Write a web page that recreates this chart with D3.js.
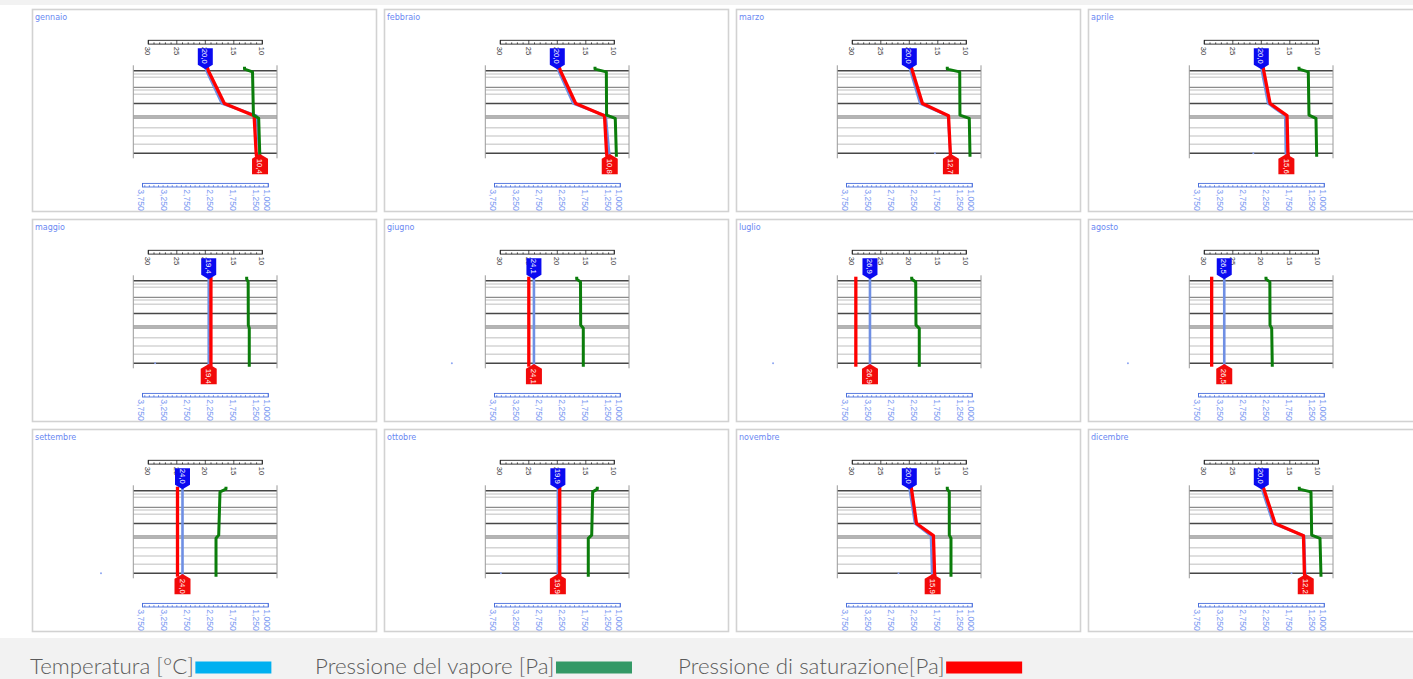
<!DOCTYPE html>
<html>
<head>
<meta charset="utf-8">
<script src="https://cdn.jsdelivr.net/npm/d3@7/dist/d3.min.js"></script>
<style>
  html, body { margin: 0; padding: 0; background: #f2f2f2; }
  svg { display: block; }
</style>
</head>
<body>
<svg id="chart" width="1413" height="679"></svg>
<script>
// Monthly Glaser diagrams of a wall: temperature, vapour pressure and saturation pressure
const months = ["gennaio", "febbraio", "marzo", "aprile", "maggio", "giugno",
                "luglio", "agosto", "settembre", "ottobre", "novembre", "dicembre"];

const tempTicks = [30, 25, 20, 15, 10];
const pressTicks = [3750, 3250, 2750, 2250, 1750, 1250, 1000];

// wall section: interfaces (cm from the inner surface) and how each line is drawn
const layerDepths = [0, 1.65, 3.3, 8.3, 9.65, 11.8, 16.4, 22.6, 23.7, 28.5, 32.65, 36.8, 41.3];
const layerKinds  = ["major", "light", "light", "medium", "light", "light", "major",
                     "band", "band", "light", "light", "light", "major"];

// depths of the profile points: inner air, inner surface, interfaces, outer surface, outer air
const profileDepths = [-2, 0, 16.4, 22.5, 41.3, 43];
const vapourDepths  = [-2, -0.8, 0.6, 22.2, 23.8, 43];

const tempInside  = [20.0, 20.0, 20.0, 20.0, 19.4, 24.1, 26.9, 26.5, 24.0, 19.9, 20.0, 20.0];
const tempOutside = [10.4, 10.8, 12.7, 15.6, 19.4, 24.1, 26.9, 26.5, 24.0, 19.9, 15.9, 12.2];

// temperature [°C] at the profile depths
const tempProfiles = [
  [20.0, 19.8, 17.1, 11.0, 10.5, 10.4],
  [20.0, 19.8, 17.2, 11.5, 10.9, 10.8],
  [20.0, 19.8, 18.1, 13.2, 12.8, 12.7],
  [20.0, 19.9, 18.8, 15.8, 15.7, 15.6],
  [19.4, 19.4, 19.4, 19.4, 19.4, 19.4],
  [24.1, 24.1, 24.1, 24.1, 24.1, 24.1],
  [26.9, 26.9, 26.9, 26.9, 26.9, 26.9],
  [26.5, 26.5, 26.5, 26.5, 26.5, 26.5],
  [24.0, 24.0, 24.0, 24.0, 24.0, 24.0],
  [19.9, 19.9, 19.9, 19.9, 19.9, 19.9],
  [20.0, 19.9, 19.0, 16.2, 16.0, 15.9],
  [20.0, 19.8, 17.9, 12.5, 12.3, 12.2]
];

// saturation pressure [Pa] at the profile depths
const satProfiles = [
  [2337, 2310, 1960, 1310, 1265, 1255],
  [2337, 2310, 1975, 1345, 1300, 1290],
  [2337, 2310, 2090, 1520, 1480, 1475],
  [2337, 2324, 2185, 1815, 1795, 1785],
  [2254, 2254, 2254, 2254, 2254, 2254],
  [3000, 3000, 3000, 3000, 3000, 3000],
  [3546, 3546, 3546, 3546, 3546, 3546],
  [3462, 3462, 3462, 3462, 3462, 3462],
  [2985, 2985, 2985, 2985, 2985, 2985],
  [2324, 2324, 2324, 2324, 2324, 2324],
  [2337, 2324, 2220, 1850, 1825, 1815],
  [2337, 2310, 2075, 1455, 1435, 1425]
];

// vapour pressure [Pa] at the vapour depths
const vapourProfiles = [
  [1520, 1520, 1345, 1325, 1210, 1185],
  [1553, 1553, 1305, 1300, 1110, 1085],
  [1547, 1547, 1275, 1270, 1066, 1050],
  [1553, 1553, 1350, 1335, 1182, 1166],
  [1473, 1473, 1440, 1437, 1416, 1416],
  [1953, 1953, 1870, 1866, 1809, 1809],
  [2325, 2325, 2237, 2231, 2159, 2159],
  [2275, 2275, 2190, 2187, 2150, 2137],
  [1925, 1925, 2056, 2084, 2143, 2143],
  [1503, 1503, 1604, 1625, 1700, 1700],
  [1547, 1547, 1503, 1503, 1466, 1466],
  [1547, 1547, 1291, 1276, 1094, 1072]
];

// small temperature markers on the outer surface line
const markerTemps = [null, null, 15.5, 21.4, 28.8, 38.5, 43.9, 43.4, 38.3, 29.9, 21.9, 14.7];

const legendLabels = ["Temperatura [°C]", "Pressione del vapore [Pa]", "Pressione di saturazione[Pa]"];
const legendColors = ["#00b0f0", "#339966", "#ff0000"];

// ---------------------------------------------------------------------------
const svg = d3.select("#chart");
const panelW = 344, panelH = 202, stepX = 352, stepY = 210;

svg.append("rect").attr("x", 0).attr("y", 5).attr("width", 1413).attr("height", 633)
  .attr("fill", "#ffffff");

const xT = d3.scaleLinear().domain([30, 10]).range([148.3, 262.3]);
const xP = d3.scaleLinear().domain([3750, 1000]).range([142.5, 268.3]);
const yD = d3.scaleLinear().domain([0, 41.3]).range([70.7, 153.3]);

const wallX0 = 133.3, wallX1 = 277;
const fmtT = v => v.toFixed(1).replace(".", ",");
const fmtP = d3.format(",");

const lineStyle = {
  major:  { stroke: "#474747", width: 1.6 },
  medium: { stroke: "#8c8c8c", width: 1.3 },
  light:  { stroke: "#d4d4d4", width: 1.5 },
  band:   { stroke: "#9a9a9a", width: 1.1 }
};

months.forEach((month, i) => {
  const col = i % 4, row = Math.floor(i / 4);
  const g = svg.append("g").attr("transform", `translate(${col * stepX},${row * stepY})`);

  g.append("rect").attr("x", 32.5).attr("y", 9.5).attr("width", panelW).attr("height", panelH)
    .attr("fill", "#ffffff").attr("stroke", "#d2d2d2").attr("stroke-width", 1.6);

  g.append("text").attr("x", 35).attr("y", 19.5).text(month)
    .attr("font-family", "DejaVu Sans, sans-serif").attr("font-size", 8)
    .attr("fill", "#6a88f2");

  // temperature ruler
  const rT = g.append("g");
  rT.append("rect").attr("x", xT(30)).attr("y", 40.3).attr("width", xT(10) - xT(30)).attr("height", 3.8)
    .attr("fill", "#fff").attr("stroke", "#222").attr("stroke-width", 0.9);
  rT.selectAll("line").data(d3.range(10, 31)).join("line")
    .attr("x1", d => xT(d)).attr("x2", d => xT(d))
    .attr("y1", d => d % 5 === 0 ? 40.3 : 42.4).attr("y2", 44.1)
    .attr("stroke", "#222").attr("stroke-width", 0.8);
  rT.selectAll("text").data(tempTicks).join("text")
    .attr("transform", d => `translate(${xT(d) - 0.3},46.8) rotate(90)`)
    .attr("dy", "0.36em").text(d => d)
    .attr("font-family", "Liberation Sans, Arial, sans-serif").attr("font-size", 7.6)
    .attr("fill", "#333");

  // pressure ruler
  const rP = g.append("g");
  rP.append("rect").attr("x", xP(3750)).attr("y", 183.4).attr("width", xP(1000) - xP(3750)).attr("height", 3.6)
    .attr("fill", "#fff").attr("stroke", "#4a6fdc").attr("stroke-width", 0.9);
  rP.selectAll("line").data(d3.range(1000, 3751, 100).concat([3750])).join("line")
    .attr("x1", d => xP(d)).attr("x2", d => xP(d))
    .attr("y1", d => pressTicks.includes(d) ? 183.4 : 185.2).attr("y2", 187)
    .attr("stroke", "#4a6fdc").attr("stroke-width", 0.8);
  rP.selectAll("text").data(pressTicks).join("text")
    .attr("transform", d => `translate(${xP(d) - 1.2},189.3) rotate(90)`)
    .attr("dy", "0.36em").text(d => fmtP(d))
    .attr("font-family", "Liberation Sans, Arial, sans-serif").attr("font-size", 8.6)
    .attr("fill", "#7c9af2");

  // wall section
  const w = g.append("g");
  const bandTop = layerDepths[layerKinds.indexOf("band")];
  const bandBot = layerDepths[layerKinds.lastIndexOf("band")];
  w.append("rect").attr("x", wallX0).attr("y", yD(bandTop)).attr("width", wallX1 - wallX0)
    .attr("height", yD(bandBot) - yD(bandTop)).attr("fill", "#cfcfcf");
  w.selectAll("line.layer").data(layerDepths).join("line").attr("class", "layer")
    .attr("x1", wallX0).attr("x2", wallX1)
    .attr("y1", d => yD(d)).attr("y2", d => yD(d))
    .attr("stroke", (d, k) => lineStyle[layerKinds[k]].stroke)
    .attr("stroke-width", (d, k) => lineStyle[layerKinds[k]].width);
  w.selectAll("line.edge").data([wallX0, wallX1]).join("line").attr("class", "edge")
    .attr("x1", d => d).attr("x2", d => d).attr("y1", 65.3).attr("y2", 158.3)
    .attr("stroke", "#9a9a9a").attr("stroke-width", 1);

  if (markerTemps[i] !== null) {
    g.append("circle").attr("cx", xT(markerTemps[i])).attr("cy", yD(41.3)).attr("r", 1)
      .attr("fill", "#8ea6f2");
  }

  // profiles
  const tLine = d3.line().x(d => xT(d[1])).y(d => yD(d[0]));
  const pLine = d3.line().x(d => xP(d[1])).y(d => yD(d[0]));

  g.append("path").datum(profileDepths.map((d, k) => [d, tempProfiles[i][k]]))
    .attr("d", tLine).attr("fill", "none").attr("stroke", "#6f8fe4").attr("stroke-width", 2.6)
    .attr("stroke-linejoin", "round");
  g.append("path").datum(profileDepths.map((d, k) => [d, satProfiles[i][k]]))
    .attr("d", pLine).attr("fill", "none").attr("stroke", "#ff0000").attr("stroke-width", 3.3)
    .attr("stroke-linejoin", "round");
  g.append("path").datum(vapourDepths.map((d, k) => [d, vapourProfiles[i][k]]))
    .attr("d", pLine).attr("fill", "none").attr("stroke", "#0b7d0b").attr("stroke-width", 3)
    .attr("stroke-linejoin", "round");

  // inside / outside temperature tags
  const ti = xT(tempInside[i]);
  g.append("path")
    .attr("d", `M${ti - 7.5},48.3H${ti + 7.5}V64.7L${ti},69.3L${ti - 7.5},64.7Z`)
    .attr("fill", "#0a0af0");
  g.append("text").attr("transform", `translate(${ti},56.3) rotate(90)`)
    .attr("dy", "0.36em").attr("text-anchor", "middle").text(fmtT(tempInside[i]))
    .attr("font-family", "Liberation Sans, Arial, sans-serif").attr("font-size", 7.8)
    .attr("fill", "#fff");

  const te = xT(tempOutside[i]);
  g.append("path")
    .attr("d", `M${te},154L${te + 8},158.7V174.3H${te - 8}V158.7Z`)
    .attr("fill", "#f20a0a");
  g.append("text").attr("transform", `translate(${te},166.3) rotate(90)`)
    .attr("dy", "0.36em").attr("text-anchor", "middle").text(fmtT(tempOutside[i]))
    .attr("font-family", "Liberation Sans, Arial, sans-serif").attr("font-size", 7.8)
    .attr("fill", "#fff");
});

// legend
const legendX = [30, 315, 678];
const leg = svg.append("g");
legendLabels.forEach((label, k) => {
  const t = leg.append("text").attr("x", legendX[k]).attr("y", 673.5).text(label)
    .attr("font-family", "Lato, sans-serif").attr("font-weight", 300).attr("font-size", 22.3)
    .attr("fill", "#5a5a5a");
  const wText = t.node().getComputedTextLength();
  leg.append("rect").attr("x", legendX[k] + wText + 1.5).attr("y", 661.5)
    .attr("width", 76).attr("height", 12).attr("fill", legendColors[k]);
});
</script>
</body>
</html>
